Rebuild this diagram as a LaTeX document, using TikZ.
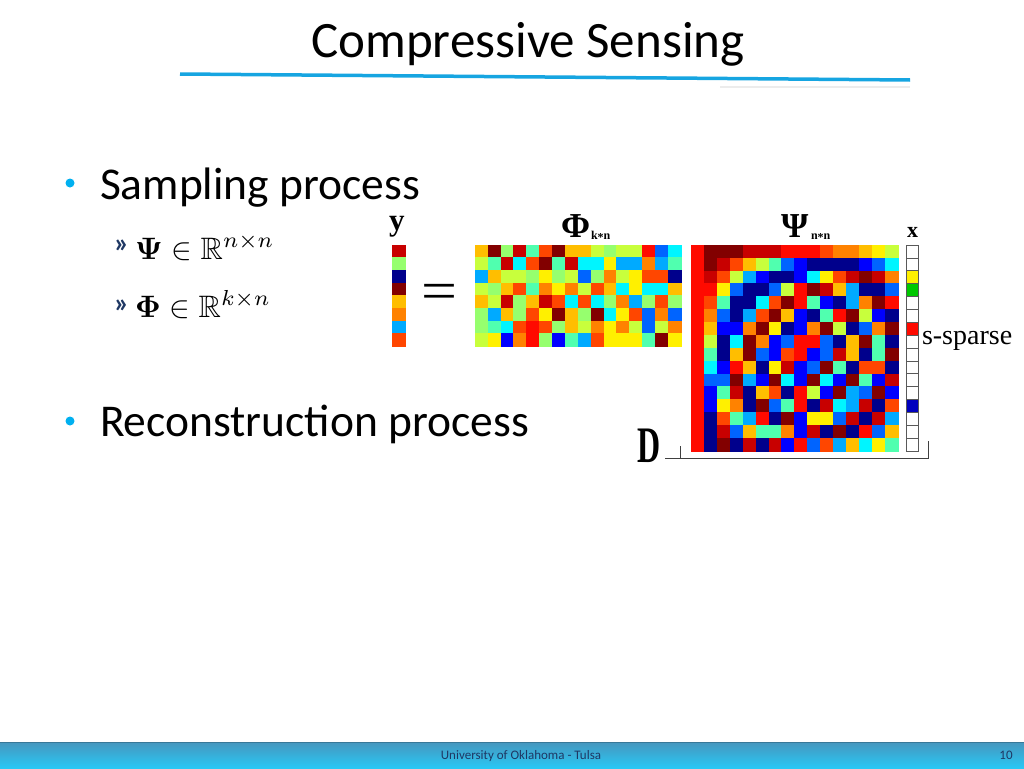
\documentclass[tikz,border=0pt]{standalone}
\usepackage{amsmath}
\usepackage{amssymb}
\usepackage[no-math]{fontspec}
\setmainfont{Carlito}
\newfontfamily\serifnum{Liberation Serif}
\usetikzlibrary{positioning,calc}
\definecolor{bulletcolor}{RGB}{0,176,240}
\definecolor{rulecolor}{RGB}{22,165,225}
\definecolor{navycolor}{RGB}{31,56,100}
\definecolor{footertop}{RGB}{70,150,190}
\definecolor{footerbottom}{RGB}{40,200,245}
% jet colour map
\definecolor{jeta}{RGB}{0,0,140}
\definecolor{jetb}{RGB}{0,0,255}
\definecolor{jetc}{RGB}{0,100,255}
\definecolor{jetd}{RGB}{0,170,255}
\definecolor{jete}{RGB}{0,245,255}
\definecolor{jetf}{RGB}{80,255,175}
\definecolor{jetg}{RGB}{150,255,110}
\definecolor{jeth}{RGB}{200,255,60}
\definecolor{jeti}{RGB}{255,240,0}
\definecolor{jetj}{RGB}{255,190,0}
\definecolor{jetk}{RGB}{255,130,0}
\definecolor{jetl}{RGB}{255,70,0}
\definecolor{jetm}{RGB}{255,10,0}
\definecolor{jetn}{RGB}{200,0,0}
\definecolor{jeto}{RGB}{130,0,0}
\definecolor{jetw}{RGB}{255,255,255}
\definecolor{jetv}{RGB}{0,200,0}
\definecolor{jetu}{RGB}{0,0,190}

\tikzset{
  txt/.style={anchor=base west, inner sep=0pt, outer sep=0pt},
  dot/.style={circle, fill=bulletcolor, inner sep=0pt, minimum size=9pt},
  cell/.style={fill=jet#1, draw=jet#1, line width=0.3pt},
  xcell/.style={fill=jet#1, draw=gray!70!black, line width=0.7pt}
}

\begin{document}
\begin{tikzpicture}[x=1pt,y=-1pt]
\useasboundingbox (0,0) rectangle (1024,768);

% Title and rule
\node[anchor=base, inner sep=0pt, font=\fontsize{51}{51}\selectfont] (title) at (528,57) {Compressive Sensing};
\draw[gray!15, line width=2pt] (720,87) -- (910,87);
\draw[rulecolor, line width=3.5pt] (180,74) -- (910,80);

% Bullets
\node[dot] (dot1) at (70,183) {};
\node[txt, font=\fontsize{45.5}{45.5}\selectfont] (samp) at (100,199) {Sampling process};
\node[txt, font=\bfseries\fontsize{28}{28}\selectfont, text=navycolor] (sub1) at (114,252) {»};
\node[txt] (psidef) at (135,259) {\scalebox{3.1}{$\mathbf{\Psi} \in \mathbb{R}^{n\times n}$}};
\node[txt, font=\bfseries\fontsize{28}{28}\selectfont, text=navycolor] (sub2) at (114,312) {»};
\node[txt] (phidef) at (135,317) {\scalebox{3.1}{$\mathbf{\Phi} \in \mathbb{R}^{k\times n}$}};
\node[dot] (dot2) at (70,421) {};
\node[txt, font=\fontsize{45.5}{45.5}\selectfont] (recon) at (100,436) {Reconstruction process};

% y vector
\foreach \c [count=\r] in {n,g,a,o,j,k,d,l}
  \path[cell=\c] (392,{245+(\r-1)*12.625}) rectangle +(13.5,12.625);
\node[txt, font=\serifnum\bfseries\fontsize{31}{31}\selectfont] (ylab) at (389,230) {y};
\node[txt, font=\serifnum\fontsize{55}{55}\selectfont] (eq) at (421,309) {\scalebox{1.16}[1]{=}};

% Phi matrix
\foreach \row [count=\r] in {
  {j,o,g,n,f,l,o,j,j,h,g,h,h,m,c,e},
  {h,f,n,e,l,o,f,n,e,e,i,d,d,k,d,f},
  {d,j,h,h,g,i,g,h,c,g,k,h,i,l,l,a},
  {h,g,j,l,f,k,i,k,h,l,j,e,i,e,e,j},
  {j,h,n,g,j,n,l,e,l,e,g,k,d,g,l,g},
  {g,d,j,g,l,i,o,j,g,o,e,i,l,c,k,c},
  {g,f,e,l,m,l,g,j,h,k,i,k,h,c,h,k},
  {h,i,b,k,m,g,b,f,d,l,i,i,i,f,o,i}}
  \foreach \c [count=\i] in \row
    \path[cell=\c] ({475+(\i-1)*12.875},{245+(\r-1)*12.625}) rectangle +(12.875,12.625);
\node[txt, font=\serifnum\bfseries\fontsize{35}{35}\selectfont] (philab) at (561,237) {Φ};
\node[txt, font=\serifnum\bfseries\fontsize{12}{12}\selectfont] (phisub) at (591,239) {k\raisebox{-2pt}{*}n};

% Psi matrix
\foreach \row [count=\r] in {
  {m,o,o,o,n,n,n,m,m,m,l,k,k,j,i,h},
  {m,o,n,l,j,h,f,c,b,a,a,a,a,b,c,e},
  {m,n,l,h,d,b,a,a,b,e,i,l,n,o,n,k},
  {m,m,i,c,a,a,c,h,m,o,n,j,d,a,a,c},
  {m,l,f,a,a,e,l,o,m,f,b,a,d,k,o,m},
  {m,k,c,a,d,l,o,j,b,a,f,m,o,h,b,a},
  {m,j,b,b,k,o,i,a,b,k,o,h,a,c,k,o},
  {m,h,a,e,o,k,b,c,m,m,c,a,j,o,f,a},
  {m,f,a,j,o,c,b,l,m,b,c,n,j,a,f,o},
  {m,e,b,m,j,a,i,n,b,c,o,f,a,l,l,a},
  {m,c,c,o,d,b,o,e,b,o,e,b,o,f,b,n},
  {m,b,f,n,a,j,l,a,m,h,b,o,d,c,o,b},
  {m,b,i,k,a,o,c,f,m,a,n,e,d,n,a,l},
  {m,a,l,f,d,m,a,o,b,i,i,c,n,a,n,d},
  {m,a,n,c,j,f,f,k,b,n,a,o,a,m,c,j},
  {m,a,o,a,n,a,n,b,m,c,l,d,j,e,i,f}}
  \foreach \c [count=\i] in \row
    \path[cell=\c] ({691+(\i-1)*12.94},{245+(\r-1)*12.875}) rectangle +(12.94,12.875);
\node[txt, font=\serifnum\bfseries\fontsize{35}{35}\selectfont] (psilab) at (781,237) {Ψ};
\node[txt, font=\serifnum\bfseries\fontsize{12}{12}\selectfont] (psisub) at (811,239) {n\raisebox{-2pt}{*}n};

% x vector
\foreach \c [count=\r] in {w,w,i,v,w,w,m,w,w,w,w,w,u,w,w,w}
  \path[xcell=\c] (906,{245+(\r-1)*12.875}) rectangle +(12,12.875);
\node[txt, font=\serifnum\bfseries\fontsize{22}{22}\selectfont] (xlab) at (907,237) {x};
\node[txt, font=\serifnum\fontsize{28}{28}\selectfont] (sparse) at (922,344) {s-sparse};

% D bracket
\node[txt, font=\serifnum\bfseries\fontsize{32}{32}\selectfont] (dlab) at (637,462) {\scalebox{1}[1.6]{D}};
\draw[gray!50!black, line width=1pt] (665,458) -- (928,458) -- (928,441);
\draw[gray!50!black, line width=1pt] (680,446) -- (680,458);

% Footer
\shade[top color=footertop, bottom color=footerbottom] (0,742) rectangle (1024,768);
\draw[footertop!80!black, line width=0.8pt] (0,742) -- (1024,742);
\node[anchor=base, inner sep=0pt, font=\fontsize{13}{13}\selectfont, text=navycolor] (footer) at (521,759) {University of Oklahoma - Tulsa};
\node[anchor=base, inner sep=0pt, font=\fontsize{13}{13}\selectfont, text=navycolor] (pagenum) at (1006,759) {10};

\end{tikzpicture}
\end{document}
